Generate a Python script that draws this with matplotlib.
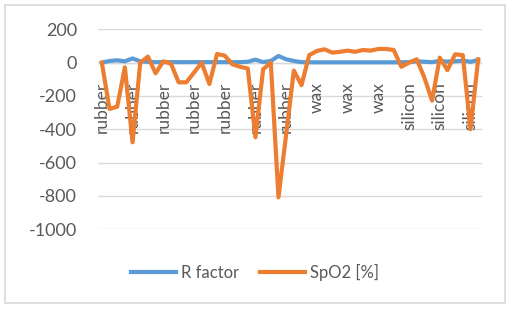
import matplotlib
matplotlib.use("Agg")
import matplotlib.pyplot as plt
from matplotlib.patches import Rectangle

# ---- data ----
categories = ["rubber"] * 28 + ["wax"] * 12 + ["silicon"] * 10

r_factor = [0, 10, 14, 8, 25, 8, 5, 3, 3, 3,
            3, 3, 3, 3, 3, 3, 3, 3, 3, 5,
            18, 3, 10, 40, 20, 10, 3, 2, 2, 2,
            2, 2, 2, 2, 2, 2, 2, 2, 2, 2,
            3, 8, 5, 3, 10, 6, 8, 12, 5, 15]

spo2 = [0, -278, -264, -28, -478, 0, 36, -64, 8, -6,
        -118, -118, -60, 0, -128, 52, 42, -10, -25, -35,
        -448, -40, 0, -808, -430, -48, -135, 45, 70, 80,
        60, 65, 72, 65, 76, 72, 82, 82, 76, -25,
        0, 20, -90, -228, 30, -45, 50, 45, -400, 20]

label_step = 4
y_ticks = [200, 0, -200, -400, -600, -800, -1000]

BLUE = "#5B9BD5"
ORANGE = "#ED7D31"
GRID = "#D9D9D9"
TEXT = "#595959"

plt.rcParams["font.family"] = ["Lato", "DejaVu Sans"]

fig = plt.figure(figsize=(5.10, 3.09), dpi=100)
ax = fig.add_axes([98 / 510, 1 - 229.3 / 309, 384 / 510, 200 / 309])

x = list(range(len(categories)))
ax.plot(x, r_factor, color=BLUE, lw=3.0, solid_joinstyle="round", label="R factor", zorder=3)
ax.plot(x, spo2, color=ORANGE, lw=3.0, solid_joinstyle="round", label="SpO2 [%]", zorder=4)

ax.set_xlim(-0.5, len(categories) - 0.5)
ax.set_ylim(-1000, 200)
ax.set_yticks(y_ticks)
ax.set_yticklabels([str(v) for v in y_ticks])
ax.tick_params(axis="y", length=0, pad=15, labelsize=13, labelcolor=TEXT)
ax.set_xticks([])
ax.grid(axis="y", color=GRID, lw=1)
ax.set_axisbelow(True)
for s in ax.spines.values():
    s.set_visible(False)
ax.axhline(0, color=GRID, lw=1, zorder=1)

# category labels hang below the zero line, rotated
for i in range(0, len(categories), label_step):
    ax.annotate(categories[i], xy=(i, 0), xytext=(0, -14), textcoords="offset points",
                rotation=90, ha="center", va="top", fontsize=12.5, color=TEXT)

leg = fig.legend(loc="center", bbox_to_anchor=(0.5, 1 - 272.7 / 309), ncol=2, frameon=False,
                 fontsize=12, handlelength=2.7, columnspacing=1.3, handletextpad=0.25)
for t in leg.get_texts():
    t.set_color(TEXT)

fig.patches.append(Rectangle((5 / 510, 6 / 309), 500 / 510, 298 / 309, transform=fig.transFigure,
                             fill=False, edgecolor=GRID, lw=1.2))

fig.savefig("out.png", dpi=100)
